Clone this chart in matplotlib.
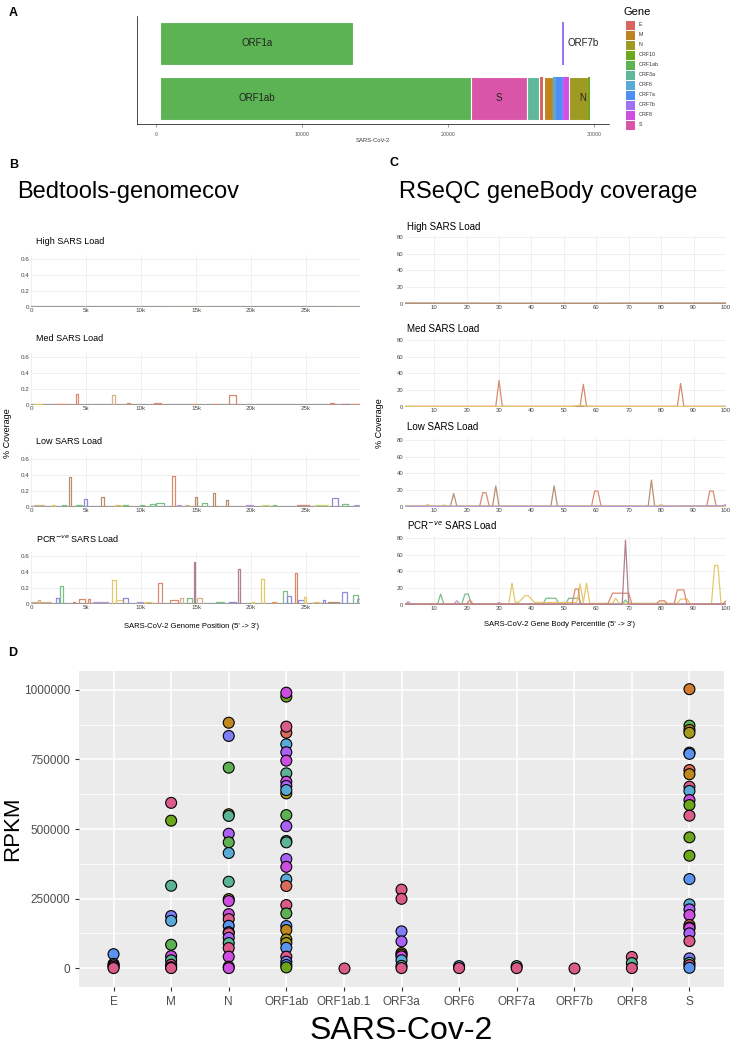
import numpy as np
import matplotlib.pyplot as plt

plt.rcParams['font.family'] = ['Liberation Sans', 'DejaVu Sans']

# ---------------- data ----------------
# panel A: SARS-CoV-2 genome map (start, end, row)
gene_names = ["ORF1a", "ORF7b", "ORF1ab", "S", "ORF3a", "E", "M", "ORF6", "ORF7a", "ORF7b", "ORF8", "N", "ORF10"]
gene_start = [266, 27756, 266, 21563, 25393, 26245, 26523, 27202, 27394, 27756, 27894, 28274, 29558]
gene_end = [13483, 27887, 21555, 25384, 26220, 26472, 27191, 27387, 27759, 27887, 28259, 29533, 29674]
gene_row = [2, 2, 1, 1, 1, 1, 1, 1, 1, 1, 1, 1, 1]
label_text = ["ORF1a", "ORF1ab", "S", "N", "ORF7b"]
label_pos = [6900, 6900, 23470, 29200, 28150]
label_row = [2, 1, 1, 1, 2]
legend_genes = ["E", "M", "N", "ORF10", "ORF1ab", "ORF3a", "ORF6", "ORF7a", "ORF7b", "ORF8", "S"]
gene_colors = {"E": "#D9655E", "M": "#BE8420", "N": "#9E9A22", "ORF10": "#6BA81E",
               "ORF1ab": "#5CB353", "ORF1a": "#5CB353", "ORF3a": "#60B89A", "ORF6": "#5AAAD8",
               "ORF7a": "#4D8FF5", "ORF7b": "#A070F5", "ORF8": "#D04FE0", "S": "#D855A8"}

# panel B: bedtools coverage peaks (start kb, end kb, height, colour key)
cov_colors = {"sal": "#DA8A6E", "tan": "#D2B48C", "bp": "#8E8ED8", "grn": "#79BF86",
              "yel": "#E6C86A", "mau": "#B08090", "brn": "#B89070", "yg": "#C6DA70",
              "pur": "#B79AD6", "org": "#E0A060"}
b_panels = ["High SARS Load", "Med SARS Load", "Low SARS Load", "PCR$^{-ve}$ SARS Load"]
b_peaks = [
    [(27.5, 29.8, 0.006, "yel"), (12.0, 16.0, 0.004, "yg")],
    [(0.3, 1.0, 0.01, "yel"), (2.2, 3.2, 0.012, "sal"), (4.1, 4.3, 0.14, "sal"), (7.4, 7.6, 0.12, "tan"),
     (8.7, 9.0, 0.02, "sal"), (11.2, 11.8, 0.02, "sal"), (14.6, 15.0, 0.01, "sal"), (16.6, 17.0, 0.015, "sal"),
     (18.0, 18.6, 0.13, "sal"), (27.2, 27.5, 0.02, "sal"), (28.3, 28.9, 0.015, "mau"), (29.3, 29.9, 0.012, "sal")],
    [(0.3, 1.2, 0.02, "tan"), (1.9, 2.2, 0.03, "yel"), (2.8, 3.2, 0.025, "grn"), (3.45, 3.65, 0.38, "brn"),
     (4.1, 4.6, 0.03, "grn"), (4.8, 5.1, 0.10, "bp"), (6.35, 6.6, 0.13, "brn"), (7.6, 8.2, 0.03, "yel"),
     (8.4, 8.8, 0.03, "grn"), (9.9, 10.3, 0.03, "grn"), (10.8, 11.3, 0.035, "grn"), (11.4, 12.1, 0.045, "grn"),
     (12.8, 13.1, 0.39, "sal"), (13.3, 13.6, 0.03, "pur"), (14.0, 14.4, 0.03, "tan"), (14.9, 15.1, 0.13, "brn"),
     (15.5, 16.0, 0.05, "grn"), (16.5, 16.7, 0.17, "brn"), (17.7, 17.9, 0.09, "brn"), (19.5, 20.2, 0.02, "pur"),
     (21.0, 21.6, 0.025, "yg"), (22.0, 22.3, 0.02, "grn"), (24.2, 25.3, 0.025, "sal"), (25.8, 27.0, 0.025, "yg"),
     (27.4, 27.9, 0.11, "bp"), (28.3, 28.8, 0.04, "grn"), (29.4, 29.8, 0.03, "pur")],
    [(0.0, 1.8, 0.02, "tan"), (0.6, 0.8, 0.05, "tan"), (2.3, 2.5, 0.07, "bp"), (2.6, 2.9, 0.22, "grn"),
     (3.8, 4.0, 0.03, "brn"), (4.4, 4.9, 0.06, "sal"), (5.2, 5.4, 0.06, "sal"), (5.6, 7.0, 0.03, "pur"),
     (7.4, 7.7, 0.30, "yel"), (7.7, 8.4, 0.05, "yel"), (8.4, 8.8, 0.07, "bp"), (9.6, 10.2, 0.03, "pur"),
     (10.4, 11.0, 0.03, "yel"), (11.5, 11.9, 0.26, "sal"), (12.6, 13.4, 0.05, "sal"), (13.5, 13.8, 0.08, "tan"),
     (14.2, 14.6, 0.08, "grn"), (14.8, 14.95, 0.53, "mau"), (15.1, 15.5, 0.07, "tan"), (16.8, 17.5, 0.02, "grn"),
     (18.0, 18.6, 0.02, "bp"), (18.8, 19.0, 0.44, "mau"), (20.1, 20.3, 0.03, "yel"), (20.9, 21.2, 0.31, "yel"),
     (21.9, 22.3, 0.02, "org"), (22.9, 23.3, 0.16, "grn"), (23.3, 23.6, 0.10, "bp"), (24.0, 24.2, 0.39, "sal"),
     (24.3, 24.8, 0.05, "bp"), (24.8, 25.0, 0.09, "yel"), (25.6, 26.3, 0.03, "yel"), (26.5, 26.7, 0.05, "bp"),
     (27.0, 28.0, 0.03, "brn"), (28.3, 28.7, 0.15, "bp"), (29.3, 29.7, 0.11, "grn"), (29.6, 29.9, 0.06, "pur")],
]

# panel C: RSeQC gene body coverage traces (colour key, x vertices, y vertices)
c_panels = b_panels
c_traces = [
    [("brn", [1, 30, 60, 100], [1.2, 1.0, 1.0, 1.2])],
    [("sal", [1, 29, 30, 31, 55, 56, 57, 85, 86, 87, 100], [0.8, 0.8, 31.5, 0.8, 0.8, 27, 0.8, 0.8, 28, 0.8, 0.8]),
     ("yel", [1, 52, 55, 58, 100], [0.5, 0.5, 2, 0.5, 0.5])],
    [("brn", [1, 15, 16, 17, 28, 29, 30, 46, 47, 48, 76, 77, 78, 100],
      [1, 1, 16, 1, 1, 25, 1, 1, 25, 1, 1, 32, 1, 1]),
     ("sal", [1, 24, 25, 26, 27, 58.5, 59.5, 60.5, 61.5, 94, 95, 96, 97, 100],
      [0.5, 0.5, 17, 17, 0.5, 0.5, 19, 19, 0.5, 0.5, 19, 19, 0.5, 0.5]),
     ("yel", [1, 7, 8, 9, 12, 13, 14, 79, 80, 81, 100], [1, 1, 3, 1, 1, 2.5, 1, 1, 3, 1, 1]),
     ("pur", [1, 60, 80, 99, 100], [0.8, 0.8, 0.8, 1.5, 3])],
    [("grn", [1, 11, 12, 13, 18.5, 19.5, 20.5, 21.5, 43.5, 44.5, 47.5, 48.5, 50.5, 51.5, 54.5, 55.5,
              68, 69, 70, 100],
      [1, 1, 13, 1, 1, 13, 13, 1, 1, 8, 8, 1, 1, 8, 8, 1, 1, 6, 1, 1]),
     ("pur", [1, 2, 3, 16, 17, 18, 29, 30, 31, 100], [1, 4, 1, 1, 5, 1, 1, 3, 1, 1]),
     ("yel", [1, 33, 34, 35, 36, 38, 39, 41, 54, 55, 56, 57, 58, 65, 66, 67, 85, 86, 88, 89, 95.5, 96.5,
              97.5, 98.5, 100],
      [1, 1, 26, 3, 3, 11, 11, 3, 3, 25, 3, 26, 2, 2, 8, 2, 2, 7, 7, 1, 1, 47, 47, 1, 1]),
     ("sal", [1, 20, 21, 22, 52.5, 53.5, 54.5, 55, 63.5, 65, 70, 71, 78.5, 79.5, 81, 82, 84, 85, 87, 88,
              99, 100],
      [1, 1, 6, 1, 1, 19, 19, 1, 1, 14, 14, 1, 1, 5, 5, 1, 1, 18, 18, 1, 1, 5]),
     ("mau", [1, 68, 69, 70, 100], [1, 1, 77, 1, 1])],
]

# panel D: RPKM per gene, sample index into the point palette
rpkm_genes = ["E", "M", "N", "ORF1ab", "ORF1ab.1", "ORF3a", "ORF6", "ORF7a", "ORF7b", "ORF8", "S"]
rpkm_values = {
    "E": [50000, 15000, 10000, 5000, 0],
    "M": [594000, 530000, 296000, 187000, 170000, 84000, 43000, 28000, 12000, 3000, 0],
    "N": [882000, 834500, 720500, 553000, 547000, 483000, 452000, 413700, 310500, 248000, 241000, 194000,
          176000, 152000, 129000, 125000, 109000, 90000, 72000, 41000, 5000, 0],
    "ORF1ab": [976000, 990000, 846000, 868000, 804500, 776000, 745700, 700000, 670000, 654700, 628000, 640000,
               550000, 510000, 457000, 452000, 392000, 364000, 319000, 295000, 226600, 196600, 151000, 136700,
               103000, 90000, 73000, 41000, 23000, 11000, 2500],
    "ORF1ab.1": [0],
    "ORF3a": [282000, 249000, 132000, 96000, 54000, 48000, 42000, 28000, 8000, 0],
    "ORF6": [7000, 0],
    "ORF7a": [7000, 0],
    "ORF7b": [0],
    "ORF8": [40000, 18000, 0],
    "S": [1002600, 871600, 856000, 846000, 774600, 770000, 712000, 697000, 652000, 636700, 604000, 586000,
          548000, 470000, 404000, 320000, 229000, 211000, 190600, 154700, 146000, 143000, 124800, 97000,
          35000, 19000, 10800, 1000],
}
rpkm_samples = {
    "E": [8, 6, 11, 12, 12],
    "M": [12, 4, 6, 9, 7, 5, 11, 6, 12, 11, 12],
    "N": [2, 9, 5, 3, 6, 10, 5, 7, 6, 3, 11, 11, 12, 8, 6, 12, 10, 6, 12, 11, 12, 11],
    "ORF1ab": [4, 11, 0, 12, 7, 10, 11, 6, 11, 10, 3, 7, 5, 10, 6, 6, 10, 11, 7, 0, 12, 5, 8, 2,
               3, 3, 8, 12, 9, 8, 4],
    "ORF1ab.1": [12],
    "ORF3a": [12, 12, 9, 10, 2, 3, 11, 7, 6, 12],
    "ORF6": [7, 12],
    "ORF7a": [6, 12],
    "ORF7b": [12],
    "ORF8": [12, 6, 12],
    "S": [1, 5, 2, 3, 7, 8, 0, 2, 12, 7, 11, 4, 12, 4, 4, 8, 7, 10, 11, 0, 12, 11, 10, 12,
          9, 6, 12, 8],
}
point_palette = ["#D96A5C", "#D07A30", "#C0881E", "#A89A1F", "#6DA51D", "#5DB154", "#5BB595",
                 "#5AAAD8", "#5B93F0", "#7E7EF5", "#A962F5", "#CC4FE0", "#D95C8A"]

# ---------------- figure ----------------
W, H = 736, 1045
fig = plt.figure(figsize=(W / 100, H / 100), dpi=100)


def box(l, t, r, b):
    return fig.add_axes([l / W, 1 - b / H, (r - l) / W, (b - t) / H])


def ftext(x, y, s, **kw):
    fig.text(x / W, 1 - y / H, s, **kw)


# ---- A ----
ftext(9, 13, "A", fontsize=9, fontweight="bold", va="center")
axA = box(137, 16, 609, 124)
widths = [e - s for s, e in zip(gene_start, gene_end)]
cols = [gene_colors[g] for g in gene_names]
lws = [0.8 if w > 500 else 0 for w in widths]
axA.barh(gene_row, widths, left=gene_start, height=0.79, color=cols, edgecolor="white", linewidth=lws)
for txt, xp, rw in zip(label_text, label_pos, label_row):
    axA.text(xp, rw, txt, fontsize=7, ha="left" if txt == "ORF7b" else "center", va="center", color="#222222")
axA.set_xlim(-1300, 31000)
axA.set_ylim(0.53, 2.5)
axA.set_yticks([])
axA.set_xticks([0, 10000, 20000, 30000])
axA.tick_params(axis="x", labelsize=3.8, colors="#555555", length=2, width=0.4)
for sp in ["top", "right"]:
    axA.spines[sp].set_visible(False)
for sp in ["left", "bottom"]:
    axA.spines[sp].set_linewidth(0.5)
axA.set_xlabel("SARS-CoV-2", fontsize=4.2, labelpad=1, color="#333333")

ftext(624, 12, "Gene", fontsize=8, va="center")
for i, g in enumerate(legend_genes):
    yc = 25 + i * 10
    fig.add_artist(plt.Rectangle((626 / W, 1 - (yc + 4.5) / H), 9 / W, 9 / H,
                                 transform=fig.transFigure, color=gene_colors[g], lw=0))
    ftext(639, yc, g, fontsize=3.8, va="center", color="#333333")

# ---- B and C ----
ftext(9, 165, "B", fontsize=9, fontweight="bold", va="center")
ftext(389, 163, "C", fontsize=9, fontweight="bold", va="center")
ftext(17, 192, "Bedtools-genomecov", fontsize=17, va="center")
ftext(399, 192, "RSeQC geneBody coverage", fontsize=17, va="center")

b_bottoms = [307, 405, 507, 604]
b_titles_y = [242, 339, 442, 539]
for i in range(4):
    ax = box(31, b_bottoms[i] - 52, 360, b_bottoms[i])
    ax.set_xlim(0, 29903)
    ax.set_ylim(0, 0.65)
    ax.axhline(0, color="#9a9a9a", lw=1.6, zorder=1)
    for s, e, h, c in b_peaks[i]:
        ax.plot([s * 1000, s * 1000, e * 1000, e * 1000], [0, h, h, 0], color=cov_colors[c], lw=0.9, zorder=2)
    ax.set_xticks([0, 5000, 10000, 15000, 20000, 25000])
    ax.set_xticklabels(["0", "5k", "10k", "15k", "20k", "25k"])
    ax.set_yticks([0, 0.2, 0.4, 0.6])
    ax.set_yticklabels(["0", "0.2", "0.4", "0.6"])
    ax.tick_params(labelsize=4.5, colors="#444444", length=0, pad=1)
    ax.grid(True, color="#eeeeee", lw=0.6)
    ax.set_axisbelow(True)
    for sp in ax.spines.values():
        sp.set_visible(False)
    ftext(36, b_titles_y[i], b_panels[i], fontsize=6.5, va="center")
ftext(8, 433, "% Coverage", fontsize=6.5, rotation=90, va="center", ha="center")
ftext(192, 627, "SARS-CoV-2 Genome Position (5' -> 3')", fontsize=5.5, ha="center", va="center")

c_bottoms = [304, 407, 507, 605]
c_titles_y = [227, 329, 427, 526]
for i in range(4):
    ax = box(405, c_bottoms[i] - 69, 726, c_bottoms[i])
    ax.set_xlim(1, 100)
    ax.set_ylim(0, 82)
    ax.axhline(0.5, color="#9a9a9a", lw=1.6, zorder=1)
    for c, xs, ys in c_traces[i]:
        ax.plot(xs, ys, color=cov_colors[c], lw=0.9, zorder=2)
    ax.set_xticks(range(10, 101, 10))
    ax.set_yticks([0, 20, 40, 60, 80])
    ax.tick_params(labelsize=4.3, colors="#444444", length=0, pad=1)
    ax.grid(True, color="#eeeeee", lw=0.6)
    ax.set_axisbelow(True)
    for sp in ax.spines.values():
        sp.set_visible(False)
    ftext(407, c_titles_y[i], c_panels[i], fontsize=7, va="center")
ftext(379, 423, "% Coverage", fontsize=6.5, rotation=90, va="center", ha="center")
ftext(559, 625, "SARS-CoV-2 Gene Body Percentile (5' -> 3')", fontsize=5.5, ha="center", va="center")

# ---- D ----
ftext(8, 653, "D", fontsize=9, fontweight="bold", va="center")
axD = box(79, 671, 724, 987)
axD.set_facecolor("#EBEBEB")
for k, g in enumerate(rpkm_genes):
    vals = rpkm_values[g]
    fc = [point_palette[s] for s in rpkm_samples[g]]
    axD.scatter([k] * len(vals), vals, s=62, c=fc, edgecolors="black", linewidths=0.8, zorder=3)
axD.set_xlim(-0.6, len(rpkm_genes) - 0.4)
axD.set_ylim(-68000, 1068000)
axD.set_xticks(range(len(rpkm_genes)))
axD.set_xticklabels(rpkm_genes)
axD.set_yticks([0, 250000, 500000, 750000, 1000000])
axD.set_yticklabels(["0", "250000", "500000", "750000", "1000000"])
axD.set_yticks([125000, 375000, 625000, 875000], minor=True)
axD.grid(True, which="major", color="white", lw=1.1)
axD.grid(True, which="minor", axis="y", color="white", lw=0.55)
axD.set_axisbelow(True)
axD.tick_params(which="major", labelsize=8.5, labelcolor="#4D4D4D", color="#333333", length=3, width=0.8)
axD.tick_params(which="minor", length=0)
for sp in axD.spines.values():
    sp.set_visible(False)
ftext(13, 829, "RPKM", fontsize=16, rotation=90, va="center", ha="center")
axD.set_xlabel("SARS-Cov-2", fontsize=23, labelpad=6)

fig.savefig("out.png", dpi=100)
